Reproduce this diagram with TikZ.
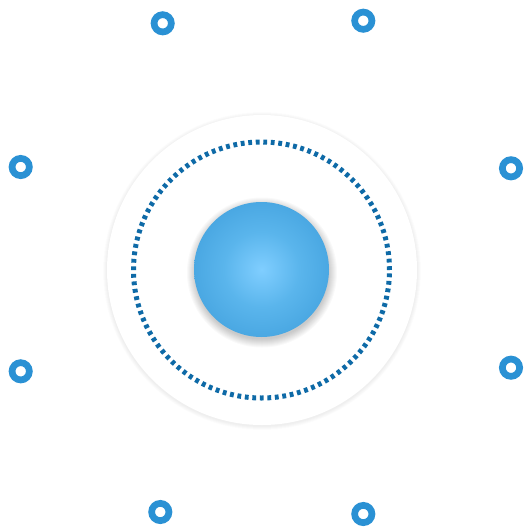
\documentclass[tikz,border=0pt]{standalone}
\definecolor{ringblue}{HTML}{2A91D4}
\definecolor{dotblue}{HTML}{0E6AA7}
\definecolor{balllight}{HTML}{80CEFF}
\definecolor{ballmid}{HTML}{5AB5EC}
\definecolor{ballmid2}{HTML}{3798D7}
\definecolor{balldark}{HTML}{2D8ACB}
\pgfdeclareradialshading{ballshade}{\pgfpoint{0bp}{0bp}}{color(0bp)=(balllight); color(14bp)=(ballmid); color(38bp)=(ballmid2); color(50bp)=(balldark); color(72bp)=(balldark)}
\tikzset{
  ringnode/.style={circle, draw=ringblue, line width=6.7pt, minimum size=17.3pt, inner sep=0pt, fill=white},
  platenode/.style={circle, fill=white, minimum size=310pt, inner sep=0pt},
  dotnode/.style={circle, draw=dotblue, line width=5pt, minimum size=256pt, inner sep=0pt,
     dash pattern=on 3.8pt off 3.72pt},
  ballnode/.style={circle, minimum size=135pt, inner sep=0pt, shading=ballshade},
  softshade/.style={fill=black, fill opacity=#1, draw=none}
}
\begin{document}
\begin{tikzpicture}[x=1pt, y=-1pt]
\useasboundingbox[fill=white] (0,0) rectangle (531,531);
% soft shadow of the plate
\foreach \r in {155.5,156,156.5,157,157.5,158,158.5,159}
  \fill[softshade=0.006] (262,271) circle[radius=\r];
\node[platenode] (plate) at (262,270) {};
\node[dotnode] (dots) at (261.5,270) {};
% soft shadow of the ball
\foreach \r in {67,68,69,70,71,72,73,74,75}
  \fill[softshade=0.025] (262,272.5) circle[radius=\r];
\node[ballnode] (ball) at (261.5,269.5) {};
\node[ringnode] (r1) at (162.7,23.3) {};
\node[ringnode] (r2) at (363.3,20.7) {};
\node[ringnode] (r3) at (20.7,167) {};
\node[ringnode] (r4) at (511,168.3) {};
\node[ringnode] (r5) at (20.7,371.3) {};
\node[ringnode] (r6) at (511,367.7) {};
\node[ringnode] (r7) at (160.3,512) {};
\node[ringnode] (r8) at (363.3,514) {};
\end{tikzpicture}
\end{document}
